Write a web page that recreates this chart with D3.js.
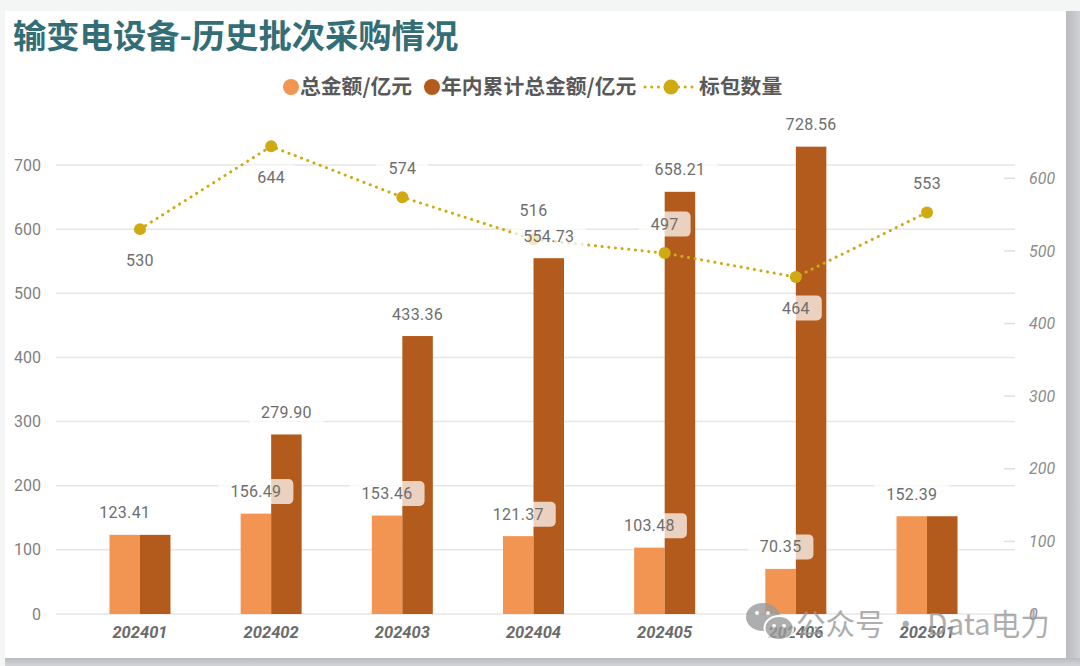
<!DOCTYPE html>
<html><head><meta charset="utf-8">
<script src="https://cdn.jsdelivr.net/npm/d3@7"></script>
<style>
html,body{margin:0;padding:0;background:#f4f5f5;}
svg{display:block;}
</style></head>
<body><svg id="c" width="1080" height="666"></svg>
<script>
const categories = ["202401","202402","202403","202404","202405","202406","202501"];
const totalAmount = [123.41,156.49,153.46,121.37,103.48,70.35,152.39];
const cumulativeAmount = [123.41,279.90,433.36,554.73,658.21,728.56,152.39];
const packageCount = [530,644,574,516,497,464,553];
const leftTicks = [0,100,200,300,400,500,600,700];
const rightTicks = [0,100,200,300,400,500,600];
const seriesNames = ["总金额/亿元","年内累计总金额/亿元","标包数量"];
const titleText = "输变电设备-历史批次采购情况";
const lineLabelSide = ["below","below","above","above","above","below","above"];

const C_LIGHT="#F29552", C_DARK="#B35B1D", C_LINE="#CFAA12";
const NUMF="Roboto, 'DejaVu Sans', sans-serif";
const CJK="'Noto Sans CJK SC', sans-serif";

const svg=d3.select("#c");
const defs=svg.append("defs");
const gR=defs.append("linearGradient").attr("id","gr").attr("x1","0").attr("x2","1");
gR.append("stop").attr("offset","0").attr("stop-color","#b9bbc1");
gR.append("stop").attr("offset","1").attr("stop-color","#cfd1d5");
const gB=defs.append("linearGradient").attr("id","gb").attr("x1","0").attr("x2","0").attr("y1","0").attr("y2","1");
gB.append("stop").attr("offset","0").attr("stop-color","#b9bbc1");
gB.append("stop").attr("offset","1").attr("stop-color","#d3d5d9");

// frame
svg.append("rect").attr("x",1066).attr("y",11).attr("width",14).attr("height",655).attr("fill","url(#gr)");
svg.append("rect").attr("x",5).attr("y",658).attr("width",1075).attr("height",8).attr("fill","url(#gb)");
svg.append("rect").attr("x",5).attr("y",11).attr("width",1061).attr("height",647).attr("fill","#fff");

// title
svg.append("text").attr("x",13).attr("y",48).text(titleText)
  .attr("font-family",CJK).attr("font-weight","bold").attr("font-size",33.3).attr("fill","#336d76");

// scales
const x=d3.scaleBand().domain(categories).range([74.4,992.6]).padding(0);
const x1=d3.scaleBand().domain(["a","b"]).range([x.bandwidth()/2-30.5,x.bandwidth()/2+30.5]).padding(0);
const yL=d3.scaleLinear().domain([0,700]).range([614,165]);
const yR=d3.scaleLinear().domain([0,600]).range([614,178.3]);

// gridlines
svg.append("g").selectAll("line").data(leftTicks).join("line")
  .attr("x1",56).attr("x2",1015).attr("y1",d=>yL(d)).attr("y2",d=>yL(d))
  .attr("stroke","#e6e6e6").attr("stroke-width",1.5);

// left axis labels
svg.append("g").selectAll("text").data(leftTicks).join("text")
  .attr("x",41).attr("y",d=>yL(d)).attr("dy","0.35em").attr("text-anchor","end")
  .attr("font-family",NUMF).attr("font-size",16).attr("fill","#7f7f7f").text(d=>d);

// right axis
const rg=svg.append("g");
rg.selectAll("line").data(rightTicks).join("line")
  .attr("x1",1004).attr("x2",1015).attr("y1",d=>yR(d)).attr("y2",d=>yR(d))
  .attr("stroke","#e0e0e0").attr("stroke-width",1.5);
rg.selectAll("text").data(rightTicks).join("text")
  .attr("x",1029).attr("y",d=>yR(d)).attr("dy","0.35em")
  .attr("font-family",NUMF).attr("font-style","italic").attr("font-size",16).attr("fill","#8c8c8c").text(d=>d);

// bars
const bars=svg.append("g");
categories.forEach((c,i)=>{
  bars.append("rect").attr("x",x(c)+x1("a")).attr("width",x1.bandwidth())
    .attr("y",yL(totalAmount[i])).attr("height",yL(0)-yL(totalAmount[i])).attr("fill",C_LIGHT);
  bars.append("rect").attr("x",x(c)+x1("b")).attr("width",x1.bandwidth())
    .attr("y",yL(cumulativeAmount[i])).attr("height",yL(0)-yL(cumulativeAmount[i])).attr("fill",C_DARK);
});

// x labels
svg.append("g").selectAll("text").data(categories).join("text")
  .attr("x",d=>x(d)+x.bandwidth()/2).attr("y",632).attr("dy","0.35em").attr("text-anchor","middle")
  .attr("font-family",NUMF).attr("font-weight","bold").attr("font-style","italic").attr("font-size",16.5)
  .attr("fill","#6b6b6b").text(d=>d);

// line
const cx=(c)=>x(c)+x.bandwidth()/2;
const line=d3.line().x((d,i)=>cx(categories[i])).y(d=>yR(d));
svg.append("path").attr("d",line(packageCount)).attr("fill","none").attr("stroke",C_LINE)
  .attr("stroke-width",3).attr("stroke-linecap","round").attr("stroke-dasharray","0.1 6.6");
svg.append("g").selectAll("circle").data(packageCount).join("circle")
  .attr("cx",(d,i)=>cx(categories[i])).attr("cy",d=>yR(d)).attr("r",6).attr("fill",C_LINE);

// labels with boxes (the cumulative label is hidden when it equals the batch amount)
const labels=[];
categories.forEach((c,i)=>{
  labels.push({x:x(c)+x1("a")+x1.bandwidth()/2,y:yL(totalAmount[i])-22,t:totalAmount[i].toFixed(2)});
  if(cumulativeAmount[i]!==totalAmount[i])
    labels.push({x:x(c)+x1("b")+x1.bandwidth()/2,y:yL(cumulativeAmount[i])-22,t:cumulativeAmount[i].toFixed(2)});
  labels.push({x:cx(c),y:yR(packageCount[i])+(lineLabelSide[i]==="above"?-29:31),t:String(packageCount[i])});
});
const lg=svg.append("g");
labels.forEach(l=>{
  const g=lg.append("g");
  const r=g.append("rect").attr("rx",5).attr("fill","#fff").attr("fill-opacity",0.72);
  const t=g.append("text").attr("x",l.x).attr("y",l.y).attr("dy","0.35em").attr("text-anchor","middle")
    .attr("font-family",NUMF).attr("font-size",16).attr("fill","#6e6e6e").attr("letter-spacing",0.3).text(l.t);
  const w=t.node().getComputedTextLength();
  r.attr("x",l.x-w/2-12).attr("width",w+24).attr("y",l.y-12.5).attr("height",25);
});

// legend
const leg=svg.append("g").attr("font-family",CJK).attr("font-weight","bold").attr("font-size",20.8).attr("fill","#595959");
leg.append("circle").attr("cx",291).attr("cy",87).attr("r",8).attr("fill",C_LIGHT);
leg.append("text").attr("x",300).attr("y",87).attr("dy","0.36em").text(seriesNames[0]);
leg.append("circle").attr("cx",432).attr("cy",87).attr("r",8).attr("fill",C_DARK);
leg.append("text").attr("x",441).attr("y",87).attr("dy","0.36em").text(seriesNames[1]);
leg.append("line").attr("x1",645).attr("x2",692).attr("y1",87).attr("y2",87).attr("stroke",C_LINE)
  .attr("stroke-width",3).attr("stroke-linecap","round").attr("stroke-dasharray","0.1 6.6");
leg.append("circle").attr("cx",671).attr("cy",87).attr("r",7.5).attr("fill",C_LINE);
leg.append("text").attr("x",699).attr("y",87).attr("dy","0.36em").text(seriesNames[2]);

// watermark
const wm=svg.append("g").attr("opacity",0.8);
wm.append("ellipse").attr("cx",763).attr("cy",617).attr("rx",17).attr("ry",14).attr("fill","#9a9a9a");
wm.append("ellipse").attr("cx",779).attr("cy",628).attr("rx",14.5).attr("ry",12).attr("fill","#9a9a9a").attr("stroke","#fff").attr("stroke-width",2);
[[757,613],[768,613],[774,626],[784,626]].forEach(p=>wm.append("circle").attr("cx",p[0]).attr("cy",p[1]).attr("r",2).attr("fill","#fff"));
wm.append("text").attr("x",796).attr("y",635).text("公众号 · Data电力")
  .attr("font-family",CJK).attr("font-size",29.5).attr("fill","#9a9a9a");
</script></body></html>
